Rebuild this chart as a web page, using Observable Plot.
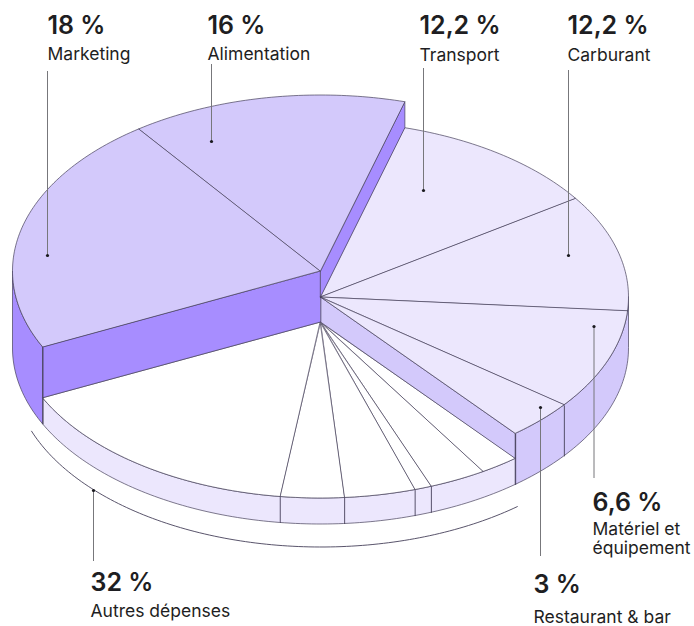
<!DOCTYPE html>
<html lang="fr"><head><meta charset="utf-8">
<script src="https://cdn.jsdelivr.net/npm/d3@7"></script>
<script src="https://cdn.jsdelivr.net/npm/@observablehq/plot@0.6"></script>
<style>html,body{margin:0;padding:0;background:#fff}svg{display:block}</style>
</head><body><div id="chart"></div>
<script>
// Data
const categories = ["Marketing","Alimentation","Transport","Carburant","Matériel et\néquipement","Restaurant & bar","Autres dépenses"];
const shares = [18,16,12.2,12.2,6.6,3,32];
// angular span of each slice as drawn in the picture (degrees, clockwise)
const drawnSpans = [79.4,52,40.1,38.6,33.2,13,103.7];
const sliceTier = [2,2,1,1,1,1,0];
// white sub-slices inside "Autres dépenses", clockwise, degrees as drawn
const autresParts = [7.4,10.8,3.2,13.4,12,56.9];

// Layout (pie model)
const W = 694, H = 626;
const cx = 320.5, rx = 308, ry = 176;
const tierY = [322, 297, 271];
const baseY = 348, bracketY = 370.5;
const firstAngle = 244.5;
const C = {top:"#d3c9fb", dark:"#a78dff", pale:"#ece7fd", white:"#ffffff", line:"#46415a", text:"#1e1e22", lead:"#77777b"};
const annotations = [
  {i:0, tx:47, vy:33, ly:59, lead:47, y1:71, y2:255},
  {i:1, tx:207, vy:33, ly:59, lead:211, y1:64, y2:141},
  {i:2, tx:419, vy:33, ly:60, lead:423, y1:68, y2:190},
  {i:3, tx:567, vy:33, ly:60, lead:568, y1:70, y2:255},
  {i:4, tx:592, vy:510, ly:553, lead:593.5, y1:326, y2:478},
  {i:5, tx:533, vy:592, ly:622, lead:540, y1:407, y2:556},
  {i:6, tx:90, vy:590, ly:616, lead:93, y1:490, y2:561}
];

// Geometry from the spans
const rad = d => d * Math.PI / 180;
const px = t => cx + rx * Math.sin(rad(t));
const py = (t, level) => level - ry * Math.cos(rad(t));
const angles = [firstAngle, ...d3.cumsum(drawnSpans, d => d).map(d => firstAngle + d)];
const arc = (a, b) => { const n = Math.max(2, Math.ceil(Math.abs(b - a))); return d3.range(n + 1).map(k => a + (b - a) * k / n); };

const wedge = (a, b, level, fill, sw = .7) => Plot.area(arc(a, b), {
  x1: () => cx, y1: () => level, x2: t => px(t), y2: t => py(t, level),
  fill, stroke: C.line, strokeWidth: sw, strokeLinejoin: "round"
});
const outerWall = (a, b, top, bottom, fill) => Plot.area(arc(a, b), {
  x1: t => px(t), y1: t => py(t, top), x2: t => px(t), y2: t => py(t, bottom),
  fill, stroke: C.line, strokeWidth: .7
});
const innerWall = (t, top, bottom, fill) => Plot.area([0, 1], {
  x1: k => k ? px(t) : cx, y1: k => k ? py(t, top) : top,
  x2: k => k ? px(t) : cx, y2: k => k ? py(t, bottom) : bottom,
  fill, stroke: C.line, strokeWidth: .7
});
const edge = (t, top, bottom) => Plot.link([t], {
  x1: d => px(d), x2: d => px(d), y1: d => py(d, top), y2: d => py(d, bottom),
  stroke: C.line, strokeWidth: .9
});

// angles: Marketing, Alimentation, Transport, Carburant, Matériel, Restaurant, Autres, end
const aTr = angles[2], aRe = angles[5], autStart = angles[6], autEnd = angles[7];
const autAngles = [autStart, ...d3.cumsum(autresParts, d => d).map(d => autStart + d)];
const lowY = tierY[0], midY = tierY[1], highY = tierY[2];

const marks = [
  // outer walls
  outerWall(autStart, autEnd, lowY, baseY, C.pale),
  outerWall(450, autStart, midY, baseY, C.top),
  outerWall(autEnd, 630, highY, baseY, C.dark),
  // white level
  ...autresParts.map((_, i) => wedge(autAngles[i], autAngles[i + 1], lowY, C.white)),
  // inner walls below the mid level and top level
  innerWall(autStart, midY, lowY, C.top),
  innerWall(autEnd, highY, lowY, C.dark),
  // light faces
  ...[2, 3, 4, 5].map(i => wedge(angles[i] , angles[i + 1], tierY[sliceTier[i]], C.pale)),
  innerWall(aTr, highY, midY, C.dark),
  // raised faces
  ...[0, 1].map(i => wedge(angles[i], angles[i + 1], tierY[sliceTier[i]], C.top)),
  // vertical edges
  edge(aRe, midY, baseY),
  edge(autStart, midY, baseY),
  edge(autEnd, highY, baseY),
  ...[2, 3, 4, 5].map(i => edge(autAngles[i], lowY, baseY)),
  // bracket under Autres dépenses
  Plot.line(arc(autStart - .4, autEnd + 5.5), {x: t => px(t), y: t => py(t, bracketY), stroke: C.line, strokeWidth: .9}),
  // leaders
  Plot.ruleX(annotations, {x: "lead", y1: "y1", y2: "y2", stroke: C.lead, strokeWidth: 1}),
  Plot.dot(annotations.filter(d => d.i < 4), {x: "lead", y: "y2", r: 1.6, fill: "#1a1a1f", stroke: null}),
  Plot.dot(annotations.filter(d => d.i >= 4), {x: "lead", y: "y1", r: 1.6, fill: "#1a1a1f", stroke: null}),
  // labels
  Plot.text(annotations, {x: "tx", y: "vy", text: d => `${String(shares[d.i]).replace(".", ",")} %`,
    textAnchor: "start", lineAnchor: "bottom", fontSize: 25, fontWeight: 600, fill: C.text, fontFamily: "Inter"}),
  Plot.text(annotations, {x: "tx", y: "ly", text: d => categories[d.i],
    textAnchor: "start", lineAnchor: "bottom", fontSize: 17.5, lineHeight: 1.04, fontWeight: 400, fill: C.text, fontFamily: "Inter"})
];

document.getElementById("chart").append(Plot.plot({
  width: W, height: H, margin: 0,
  x: {domain: [0, W], range: [0, W], axis: null},
  y: {domain: [0, H], range: [0, H], axis: null},
  style: {background: "#fff"},
  marks
}));
</script></body></html>
